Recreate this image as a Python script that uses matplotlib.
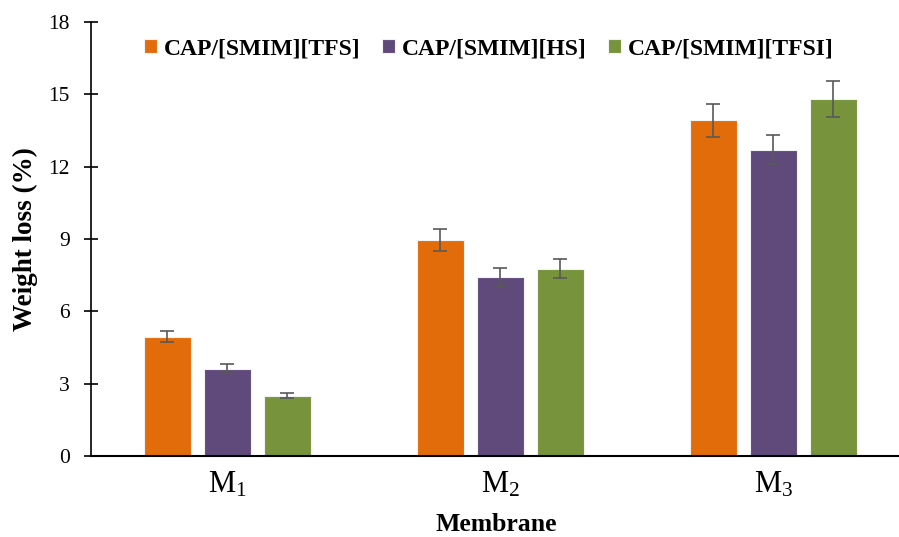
import matplotlib
matplotlib.use("Agg")
import matplotlib.pyplot as plt
import numpy as np

categories = ["M$_{1}$", "M$_{2}$", "M$_{3}$"]
series_names = ["CAP/[SMIM][TFS]", "CAP/[SMIM][HS]", "CAP/[SMIM][TFSI]"]
tfs = [4.95, 8.95, 13.92]
hs = [3.62, 7.41, 12.70]
tfsi = [2.50, 7.77, 14.82]
tfs_err = [0.23, 0.45, 0.68]
hs_err = [0.18, 0.38, 0.60]
tfsi_err = [0.10, 0.40, 0.75]
colors = ["#E36C0A", "#604A7B", "#77933C"]
yticks = [0, 3, 6, 9, 12, 15, 18]

plt.rcParams['font.family'] = ['Liberation Serif', 'DejaVu Serif']
plt.rcParams['mathtext.fontset'] = 'custom'
plt.rcParams['mathtext.rm'] = 'Liberation Serif'
plt.rcParams['mathtext.it'] = 'Liberation Serif'

fig = plt.figure(figsize=(8.99, 5.37), dpi=100)
ax = fig.add_axes([0.1009, 0.1508, 0.911, 0.808])

x = np.arange(len(categories))
width = 0.172
step = 0.22
values = [tfs, hs, tfsi]
errs = [tfs_err, hs_err, tfsi_err]
for i, (v, e) in enumerate(zip(values, errs)):
    ax.bar(x + (i - 1) * step, v, width, color=colors[i], edgecolor='#F2F2F2',
           linewidth=0.8, label=series_names[i], zorder=2)
    ax.errorbar(x + (i - 1) * step, v, yerr=e, fmt='none', ecolor='#595959',
                elinewidth=1.2, capsize=5, capthick=1.2, zorder=3)

ax.set_xlim(-0.5, 2.5)
ax.set_ylim(0, 18)
ax.set_yticks(yticks)
ax.set_yticklabels([str(t) for t in yticks], fontsize=15.5)
ax.set_xticks(x)
ax.set_xticklabels(categories, fontsize=22)
ax.tick_params(axis='x', length=0, pad=10)
ax.tick_params(axis='y', direction='inout', length=10, width=1.2, pad=10)
for s in ['top', 'right']:
    ax.spines[s].set_visible(False)
ax.spines['left'].set_linewidth(1.2)
ax.spines['bottom'].set_linewidth(1.5)

ax.set_ylabel("Weight loss (%)", fontsize=19.5, fontweight='bold', va='center')
ax.yaxis.set_label_coords(-0.080, 0.50)
ax.set_xlabel("Membrane", fontsize=18.5, fontweight='bold', va='center')
ax.xaxis.set_label_coords(0.4956, -0.157)

leg = ax.legend(ncol=3, loc='upper center', bbox_to_anchor=(0.486, 1.0),
                frameon=False, prop={'size': 17, 'weight': 'bold'},
                handlelength=0.55, handleheight=0.55, handletextpad=0.3,
                columnspacing=0.9, borderaxespad=0.3)

fig.savefig("out.png", dpi=100)
